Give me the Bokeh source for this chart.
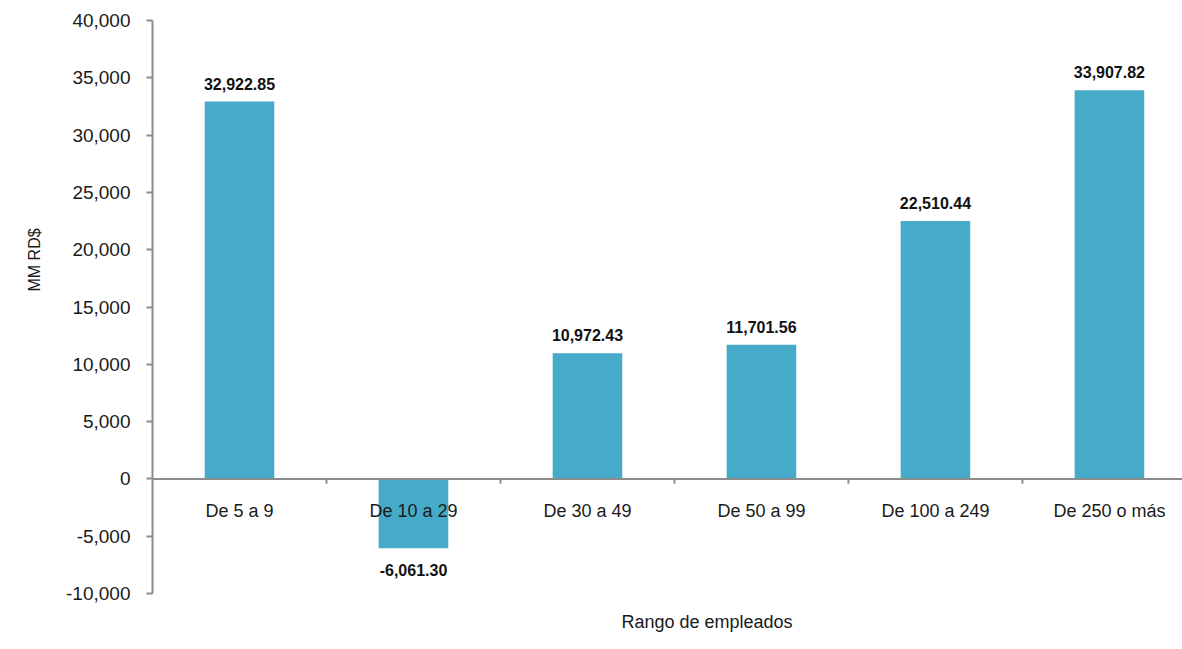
from bokeh.plotting import figure
from bokeh.models import ColumnDataSource, Range1d, FixedTicker, NumeralTickFormatter, Span, Title
from bokeh.core.properties import value
from bokeh.embed import file_html
from bokeh.resources import INLINE

categories = ["De 5 a 9", "De 10 a 29", "De 30 a 49", "De 50 a 99", "De 100 a 249", "De 250 o más"]
values = [32922.85, -6061.30, 10972.43, 11701.56, 22510.44, 33907.82]
y_ticks = [-10000, -5000, 0, 5000, 10000, 15000, 20000, 25000, 30000, 35000, 40000]
x_title = "Rango de empleados"
y_title = "MM  RD$"

BAR = "#46ABC8"
AXIS = "#8c8c8c"
FONT = "Liberation Sans"

n = len(categories)
centers = [i + 0.5 for i in range(n)]
labels = ["{:,.2f}".format(v) for v in values]

p = figure(width=1182, height=649, output_backend="svg", toolbar_location=None,
           x_range=Range1d(0, 5.92), y_range=Range1d(-10000, 40000),
           x_axis_location=None, min_border_left=152, min_border_right=0,
           min_border_top=20, min_border_bottom=56)
p.grid.visible = False
p.outline_line_color = None

src = ColumnDataSource(dict(x=centers, top=values, cat=categories, lab=labels,
                            zero=[0] * n))
p.vbar(x="x", top="top", bottom=0, width=0.4, source=src, fill_color=BAR, line_color=None)

# zero line and category separators
p.add_layout(Span(location=0, dimension="width", line_color=AXIS, line_width=2))
bounds = list(range(1, n + 1))
p.segment(x0=bounds, x1=bounds, y0=[0] * n, y1=[-420] * n, line_color=AXIS, line_width=2)

# category labels
p.text(x="x", y="zero", text="cat", source=src, text_align="center", text_baseline="middle",
       y_offset=32, text_font=value(FONT), text_font_size="18px", text_color="#1a1a1a")

# value labels
pos = ColumnDataSource(dict(x=[c for c, v in zip(centers, values) if v >= 0],
                            y=[v for v in values if v >= 0],
                            t=[l for l, v in zip(labels, values) if v >= 0]))
neg = ColumnDataSource(dict(x=[c for c, v in zip(centers, values) if v < 0],
                            y=[v for v in values if v < 0],
                            t=[l for l, v in zip(labels, values) if v < 0]))
p.text(x="x", y="y", text="t", source=pos, text_align="center", text_baseline="bottom",
       y_offset=-12, text_font=value(FONT), text_font_size="16px", text_font_style="bold",
       text_color="#111111")
p.text(x="x", y="y", text="t", source=neg, text_align="center", text_baseline="top",
       y_offset=16, text_font=value(FONT), text_font_size="16px", text_font_style="bold",
       text_color="#111111")

ya = p.yaxis[0]
ya.ticker = FixedTicker(ticks=y_ticks)
ya.formatter = NumeralTickFormatter(format="0,0")
ya.axis_line_color = AXIS
ya.axis_line_width = 2
ya.major_tick_line_color = AXIS
ya.major_tick_line_width = 2
ya.major_tick_out = 6
ya.major_tick_in = 0
ya.minor_tick_out = 0
ya.minor_tick_in = 0
ya.major_label_standoff = 16
ya.major_label_text_font = FONT
ya.major_label_text_font_size = "19px"
ya.major_label_text_color = "#1a1a1a"

p.add_layout(Title(text=y_title, align="left", offset=302, standoff=42,
                   text_font=FONT, text_font_size="16px", text_font_style="normal",
                   text_color="#1a1a1a"), "left")
p.add_layout(Title(text=x_title, align="left", offset=469, standoff=32,
                   text_font=FONT, text_font_size="18px", text_font_style="normal",
                   text_color="#1a1a1a"), "below")

open("out.html", "w").write(file_html(p, INLINE))
